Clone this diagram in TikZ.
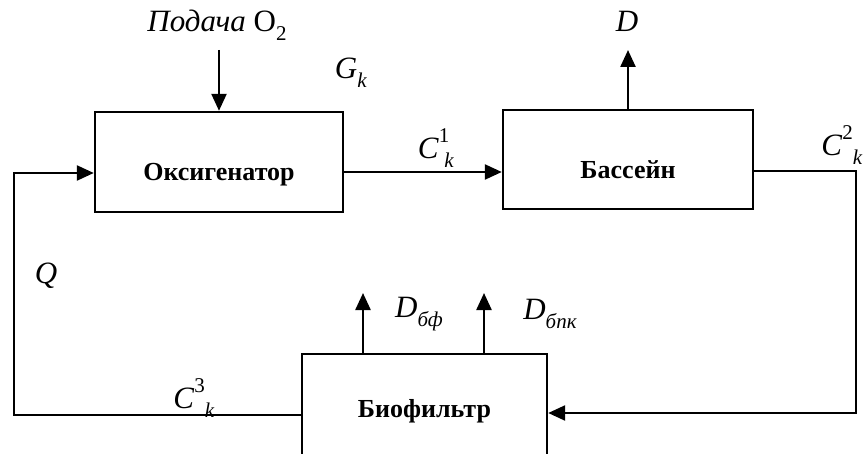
\documentclass[tikz,border=0pt]{standalone}
\usepackage{fontspec}
\setmainfont{Liberation Serif}
\usetikzlibrary{arrows.meta}
\newcommand{\lsub}[1]{\raisebox{-0.3em}{\fontsize{21}{21}\selectfont #1}}
\newcommand{\lsup}[1]{\raisebox{0.5em}{\fontsize{21}{21}\selectfont #1}}
\begin{document}
\begin{tikzpicture}[x=1pt,y=1pt,line width=2.4pt,
  box/.style={draw,rectangle,inner sep=0pt,font=\bfseries\fontsize{26}{26}\selectfont},
  lowtext/.style={text height=38pt,text depth=0pt},
  arr/.style={-{Triangle[length=17pt,width=15pt]}},
  lbl/.style={inner sep=0pt,font=\fontsize{31}{31}\selectfont}]
\useasboundingbox (0,0) rectangle (864,453);
\clip (0,0) rectangle (864,453);
% blocks
\node[box,lowtext,minimum width=248pt,minimum height=100pt] (oxy) at (219,291) {Оксигенатор};
\node[box,lowtext,minimum width=250pt,minimum height=99pt] (bas) at (628,293.5) {Бассейн};
\node[box,minimum width=245pt,minimum height=114pt] (bio) at (424.5,42) {Биофильтр};
% free ends
\coordinate (o2) at (219,403);
\coordinate (dtop) at (628,403);
\coordinate (rc) at (856,282);
\coordinate (dbf) at (363,160);
\coordinate (dbpk) at (484,160);
% connectors
\draw[arr] (o2) -- (oxy.north);
\draw[arr] (bas.north) -- (dtop);
\draw[arr] ([yshift=-10pt]oxy.east) -- ([yshift=-12.5pt]bas.west);
\draw[arr] ([yshift=-11.5pt]bas.east) -- (rc) |- ([yshift=-2pt]bio.east);
\draw[arr] ([yshift=-4pt]bio.west) -- ++(-287,0) |- ([yshift=-11pt]oxy.west);
\draw[arr] (bio.north -| dbf) -- (dbf);
\draw[arr] (bio.north -| dbpk) -- (dbpk);
% labels
\node[lbl] (lpod) at (217,428) {\textit{Подача} O\lsub{2}};
\node[lbl] (lg) at (351,380) {\textit{G}\lsub{\textit{k}}};
\node[lbl] (lc1) at (436,305) {\textit{C}\lsup{1}\hspace{-5pt}\lsub{\textit{k}}};
\node[lbl] (lc2) at (842,308) {\textit{C}\lsup{2}\lsub{\textit{k}}};
\node[lbl] (ld) at (627,432) {\textit{D}};
\node[lbl] (lq) at (46,177) {\textit{Q}};
\node[lbl] (ldbf) at (419,139) {\textit{D}\lsub{\textit{бф}}};
\node[lbl] (ldbpk) at (550,139) {\textit{D}\lsub{\textit{бпк}}};
\node[lbl] (lc3) at (194,55) {\textit{C}\lsup{3}\lsub{\textit{k}}};
\end{tikzpicture}
\end{document}
